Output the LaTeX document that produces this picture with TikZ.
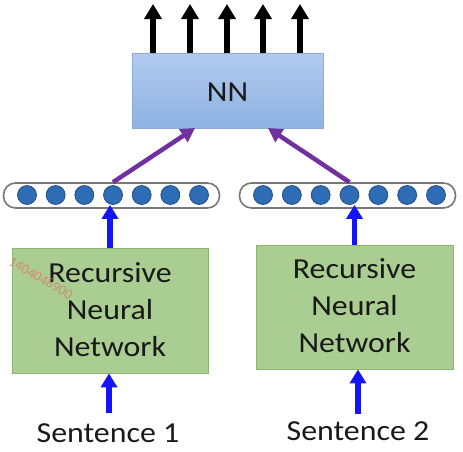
\documentclass[tikz,border=0pt]{standalone}
\usepackage{fontspec}
\setmainfont{Carlito}
\usetikzlibrary{arrows.meta,calc}
\definecolor{nnTop}{RGB}{178,202,238}
\definecolor{nnBot}{RGB}{142,178,226}
\definecolor{nnEdge}{RGB}{140,172,215}
\definecolor{grFill}{RGB}{170,205,145}
\definecolor{grEdge}{RGB}{140,180,115}
\definecolor{dotFill}{RGB}{46,108,182}
\definecolor{dotEdge}{RGB}{30,72,125}
\definecolor{capEdge}{RGB}{120,120,120}
\definecolor{purp}{RGB}{112,48,160}
\definecolor{blu}{RGB}{20,20,245}
\definecolor{txt}{RGB}{25,25,25}
\definecolor{wm}{RGB}{225,110,110}
\tikzset{
  nnbox/.style={rectangle, draw=nnEdge, line width=0.8pt, top color=nnTop, bottom color=nnBot, minimum width=191pt, minimum height=75pt, inner sep=0pt},
  greenbox/.style={rectangle, draw=grEdge, line width=0.8pt, fill=grFill, minimum width=196pt, minimum height=125pt, inner sep=0pt},
  capsule/.style={rectangle, rounded corners=12pt, draw=capEdge, line width=1.6pt, fill=white, minimum width=216pt, minimum height=25pt, inner sep=0pt},
  dot/.style={circle, fill=dotFill, draw=dotEdge, line width=0.7pt, minimum size=19pt, inner sep=0pt},
  lbl/.style={font=\fontsize{29}{37}\selectfont, text=txt, align=center, inner sep=0pt, xscale=1.1, transform shape},
  outarrow/.style={draw=black, line width=5.5pt, -{Triangle[width=17pt,length=15pt]}},
  purparrow/.style={draw=purp, line width=4.5pt, -{Triangle[width=15pt,length=14pt]}},
  bluarrow/.style={draw=blu, line width=5.5pt, -{Triangle[width=16pt,length=14pt]}}
}
\begin{document}
\begin{tikzpicture}[x=1pt,y=-1pt]
\useasboundingbox (0,0) rectangle (463,451);
% NN box
\node[nnbox] (nn) at (227.5,90.5) {};
\node[lbl] (nnt) at (227.5,92) {NN};
% outputs
\foreach \i/\x in {1/153,2/190,3/227,4/263,5/300}{
  \coordinate (o\i) at (\x,4);
  \draw[outarrow] (o\i |- nn.north) -- (o\i);
}
% capsules
\node[capsule] (vL) at (111.5,195.5) {};
\node[capsule] (vR) at (347.5,195.5) {};
\foreach \i in {1,...,7}{
  \node[dot] (cL\i) at ({27+(\i-1)*28.67},195) {};
  \node[dot] (cR\i) at ({263+(\i-1)*28.83},195) {};
}
% purple arrows
\coordinate (pL) at (195,128);
\coordinate (pR) at (268,128);
\draw[purparrow] (cL4 |- vL.north) -- (pL);
\draw[purparrow] (cR4 |- vR.north) -- (pR);
% green boxes
\node[greenbox] (gL) at (110,310.5) {};
\node[greenbox, minimum width=197pt, minimum height=124pt] (gR) at (354.5,307) {};
\node[lbl] (gLt) at (110,310) {Recursive\\Neural\\Network};
\node[lbl] (gRt) at (354.5,306) {Recursive\\Neural\\Network};
% blue arrows up to capsules
\draw[bluarrow] (gL.north) -- (gL.north |- cL4.south);
\draw[bluarrow] (gR.north) -- (gR.north |- cR4.south);
% sentences
\node[lbl] (s1) at (108,433) {Sentence 1};
\node[lbl] (s2) at (358,431) {Sentence 2};
\coordinate (b1) at (109,413);
\coordinate (b2) at (358,414);
\draw[bluarrow] (b1) -- (b1 |- gL.south);
\draw[bluarrow] (b2) -- (b2 |- gR.south);
% watermark
\node[font=\fontsize{14}{14}\selectfont, text=wm, opacity=0.7, rotate=-30, inner sep=0pt] (wmk) at (41,278) {1404048900};
\end{tikzpicture}
\end{document}
